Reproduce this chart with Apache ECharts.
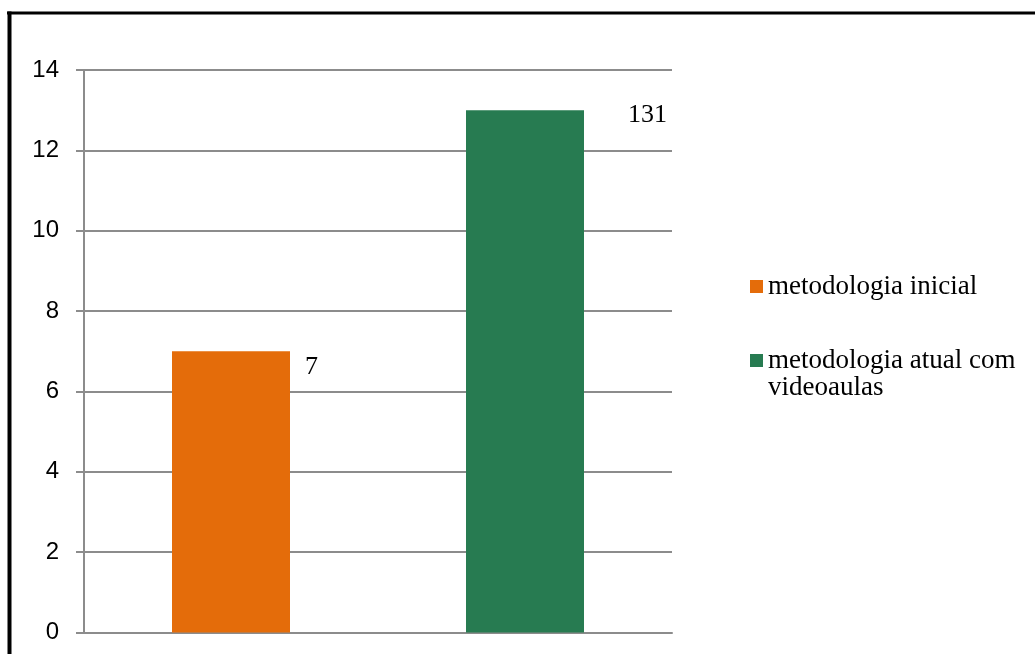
<!DOCTYPE html>
<html>
<head>
<meta charset="utf-8">
<script src="https://cdn.jsdelivr.net/npm/echarts@6/dist/echarts.min.js"></script>
<style>
  html, body { margin: 0; padding: 0; background: #fff; }
  #chart { width: 1035px; height: 654px; }
</style>
</head>
<body>
<div id="chart"></div>
<script>
// Chart data
const categories = ['metodologia inicial', 'metodologia atual com videoaulas'];
const legendNames = ['metodologia inicial', 'metodologia atual com\nvideoaulas'];
const values = [7, 13];
const footnoteMarks = ['', '1'];
const barColors = ['#E46C0A', '#277B51'];
const yTicks = [0, 2, 4, 6, 8, 10, 12, 14];

// Per-bar label offsets relative to each bar's rectangle
const labelOffsets = [[133, 16], [162, 5]];

const chart = echarts.init(document.getElementById('chart'), null, { renderer: 'canvas' });

// One series per category so each gets its own legend entry
const series = categories.map((name, i) => {
  const data = categories.map((_, j) => j === i ? {
    value: values[i],
    label: {
      show: true,
      position: labelOffsets[i],
      align: 'left',
      verticalAlign: 'middle',
      formatter: () => String(values[i]) + footnoteMarks[i],
      fontFamily: '"Liberation Serif", "Times New Roman", serif',
      fontSize: 26,
      color: '#000'
    }
  } : '-');
  return {
    name: legendNames[i],
    type: 'bar',
    stack: 'all',
    barWidth: 118,
    itemStyle: { color: barColors[i] },
    data: data
  };
});

chart.setOption({
  animation: false,
  backgroundColor: '#fff',
  grid: { left: 84, right: 363, top: 70, bottom: 21.5, containLabel: false },
  legend: {
    orient: 'vertical',
    left: 745,
    top: 268,
    padding: 5,
    icon: 'rect',
    itemWidth: 13,
    itemHeight: 13,
    itemGap: 20,
    selectedMode: false,
    data: legendNames,
    // Leading blank line keeps the marker beside the first line of a wrapped entry
    formatter: name => name.indexOf('\n') >= 0 ? '\u00a0\n' + name : name,
    textStyle: {
      fontFamily: '"Liberation Serif", "Times New Roman", serif',
      fontSize: 27,
      lineHeight: 27,
      color: '#000'
    }
  },
  xAxis: {
    type: 'category',
    data: categories,
    axisLine: { show: true, lineStyle: { color: '#8c8c8c', width: 2 } },
    axisTick: { show: false },
    axisLabel: { show: false },
    splitLine: { show: false }
  },
  yAxis: {
    type: 'value',
    min: yTicks[0],
    max: yTicks[yTicks.length - 1],
    interval: yTicks[1] - yTicks[0],
    axisLine: { show: true, lineStyle: { color: '#8c8c8c', width: 2 } },
    axisTick: { show: true, inside: false, length: 8, lineStyle: { color: '#8c8c8c', width: 2 } },
    axisLabel: {
      margin: 25,
      fontFamily: '"Liberation Sans", Arial, sans-serif',
      fontSize: 24,
      color: '#000'
    },
    splitLine: { show: true, lineStyle: { color: '#8c8c8c', width: 2 } }
  },
  graphic: [
    // Frame edges around the chart area
    { type: 'line', silent: true, shape: { x1: 7, y1: 13, x2: 1035, y2: 13 }, style: { stroke: '#000', lineWidth: 3 } },
    { type: 'line', silent: true, shape: { x1: 9.5, y1: 11.5, x2: 9.5, y2: 654 }, style: { stroke: '#000', lineWidth: 4 } }
  ],
  series: series
});
</script>
</body>
</html>
